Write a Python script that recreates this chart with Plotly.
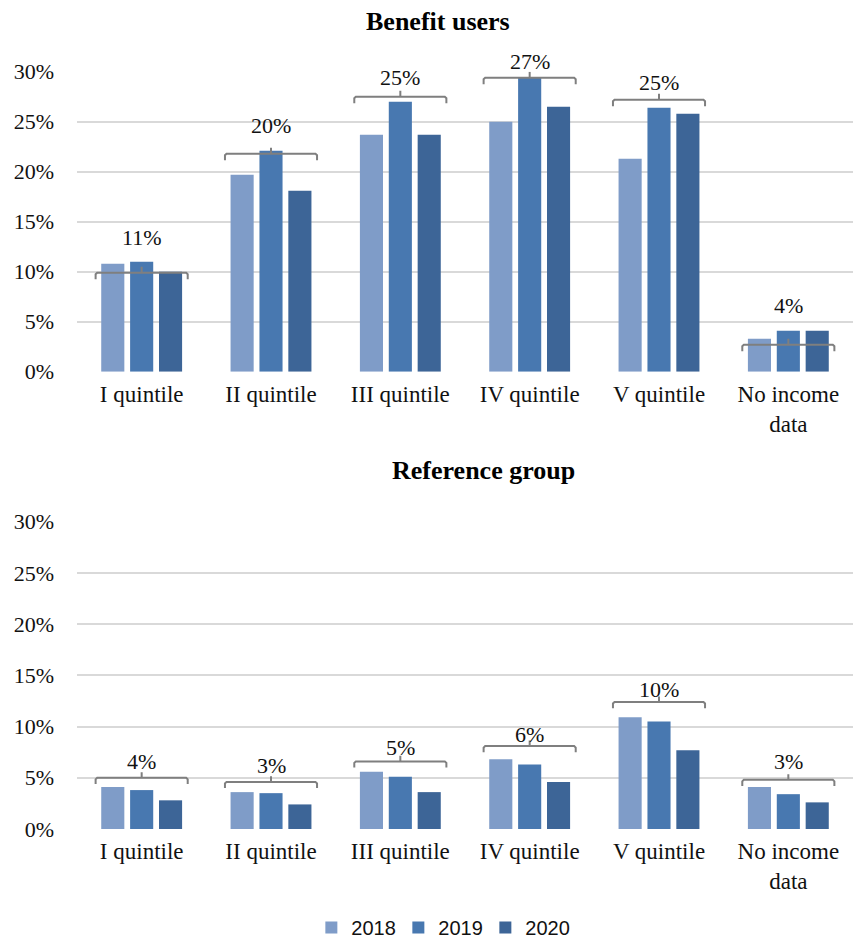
import plotly.graph_objects as go
from plotly.subplots import make_subplots

# Categories and series
categories = ["I quintile", "II quintile", "III quintile", "IV quintile", "V quintile", "No income<br>data"]
years = ["2018", "2019", "2020"]
colors = ["#7f9cc8", "#4878b0", "#3d6597"]

# Benefit users (% share)
benefit_2018 = [10.8, 19.7, 23.7, 25.0, 21.3, 3.3]
benefit_2019 = [11.0, 22.1, 27.0, 29.4, 26.4, 4.1]
benefit_2020 = [10.0, 18.1, 23.7, 26.5, 25.8, 4.1]
benefit_avg_labels = ["11%", "20%", "25%", "27%", "25%", "4%"]
benefit_bracket_y = [9.9, 21.8, 27.5, 29.4, 27.2, 2.7]
benefit_label_y = [13.4, 24.6, 29.4, 31.0, 28.9, 6.6]

# Reference group (% share)
reference_2018 = [4.1, 3.6, 5.6, 6.8, 10.9, 4.1]
reference_2019 = [3.8, 3.5, 5.1, 6.3, 10.5, 3.4]
reference_2020 = [2.8, 2.4, 3.6, 4.6, 7.7, 2.6]
reference_avg_labels = ["4%", "3%", "5%", "6%", "10%", "3%"]
reference_bracket_y = [5.0, 4.6, 6.6, 8.1, 12.4, 4.8]
reference_label_y = [6.6, 6.2, 8.0, 9.25, 13.6, 6.6]

y_ticks = [0, 5, 10, 15, 20, 25, 30]
y_ticktext = ["0%", "5%", "10%", "15%", "20%", "25%", "30%"]
Y_MAX = 30

SERIF = "Liberation Serif, Times New Roman, serif"
SANS = "Liberation Sans, Arial, sans-serif"
GRID = "#d9d9d9"
BRACKET = "#7f7f7f"

H = 947
top_dom = [1 - 371.7 / H, 1 - 71.7 / H]
bot_dom = [1 - 829.0 / H, 1 - 521.7 / H]

fig = make_subplots(rows=2, cols=1, vertical_spacing=0.1)

xpos = list(range(len(categories)))
panels = [
    (1, top_dom, [benefit_2018, benefit_2019, benefit_2020], benefit_avg_labels, benefit_bracket_y, benefit_label_y, 0.65),
    (2, bot_dom, [reference_2018, reference_2019, reference_2020], reference_avg_labels, reference_bracket_y, reference_label_y, 0.6),
]

for row, dom, series, labels, br_y, lab_y, tick_h in panels:
    for i, (yr, vals) in enumerate(zip(years, series)):
        fig.add_trace(
            go.Bar(
                x=xpos, y=vals, name=yr,
                marker=dict(color=colors[i], line=dict(width=0)),
                showlegend=(row == 1),
                hoverinfo="skip",
            ),
            row=row, col=1,
        )
    # curly brackets spanning each group, with the average label above
    half = 0.356
    xref = "x" if row == 1 else "x2"
    for k, (yb, yl, txt) in enumerate(zip(br_y, lab_y, labels)):
        x0, x1 = k - half, k + half
        bx = [x0, x0, x0 + 0.012, k - 0.012, k, k, k, k + 0.012, x1 - 0.012, x1, x1]
        by = [yb - tick_h, yb - 0.15, yb, yb, yb, yb + tick_h * 0.9, yb, yb, yb, yb - 0.15, yb - tick_h]
        fig.add_trace(
            go.Scatter(
                x=bx, y=by, mode="lines",
                line=dict(color=BRACKET, width=2, shape="linear"),
                showlegend=False, hoverinfo="skip", cliponaxis=False,
            ),
            row=row, col=1,
        )
        # label placed in paper units so it may sit above the axis top
        y_paper = dom[0] + (yl / Y_MAX) * (dom[1] - dom[0])
        fig.add_annotation(
            x=k, y=y_paper, xref=xref, yref="paper", text=txt, showarrow=False,
            font=dict(family=SERIF, size=22, color="#111111"),
            xanchor="center", yanchor="middle",
        )

axis_common_x = dict(
    tickmode="array", tickvals=xpos, ticktext=categories,
    range=[-0.5, len(categories) - 0.5],
    showgrid=False, zeroline=False, showline=False, ticks="",
    tickfont=dict(family=SERIF, size=23, color="#111111"),
    ticklabelstandoff=6, automargin=False,
)
axis_common_y = dict(
    tickmode="array", tickvals=y_ticks, ticktext=y_ticktext,
    range=[0, Y_MAX], showgrid=True, gridcolor=GRID, gridwidth=2,
    zeroline=False, showline=False, ticks="",
    tickfont=dict(family=SERIF, size=22, color="#111111"),
    ticklabelstandoff=22, automargin=False,
)

fig.update_layout(
    width=854, height=H,
    margin=dict(l=77, r=1, t=0, b=0, autoexpand=False),
    paper_bgcolor="white", plot_bgcolor="white",
    barmode="group", bargap=0.33, bargroupgap=0.2,
    xaxis=dict(domain=[0, 1], anchor="y", **axis_common_x),
    xaxis2=dict(domain=[0, 1], anchor="y2", **axis_common_x),
    yaxis=dict(domain=top_dom, anchor="x", **axis_common_y),
    yaxis2=dict(domain=bot_dom, anchor="x2", **axis_common_y),
    legend=dict(
        orientation="h", x=0.302, xanchor="left", y=0, yanchor="bottom",
        font=dict(family=SANS, size=20, color="#111111"),
        itemwidth=30, entrywidth=42, entrywidthmode="pixels",
        tracegroupgap=0, traceorder="normal",
    ),
    showlegend=True,
)

# Panel titles
fig.add_annotation(
    x=(438 - 77) / 776, y=1 - 21.7 / H, xref="paper", yref="paper",
    text="<b>Benefit users</b>", showarrow=False,
    font=dict(family=SERIF, size=26, color="#000000"),
    xanchor="center", yanchor="middle",
)
fig.add_annotation(
    x=(483 - 77) / 776, y=1 - 470.7 / H, xref="paper", yref="paper",
    text="<b>Reference group</b>", showarrow=False,
    font=dict(family=SERIF, size=26, color="#000000"),
    xanchor="center", yanchor="middle",
)

fig.write_html("out.html")
